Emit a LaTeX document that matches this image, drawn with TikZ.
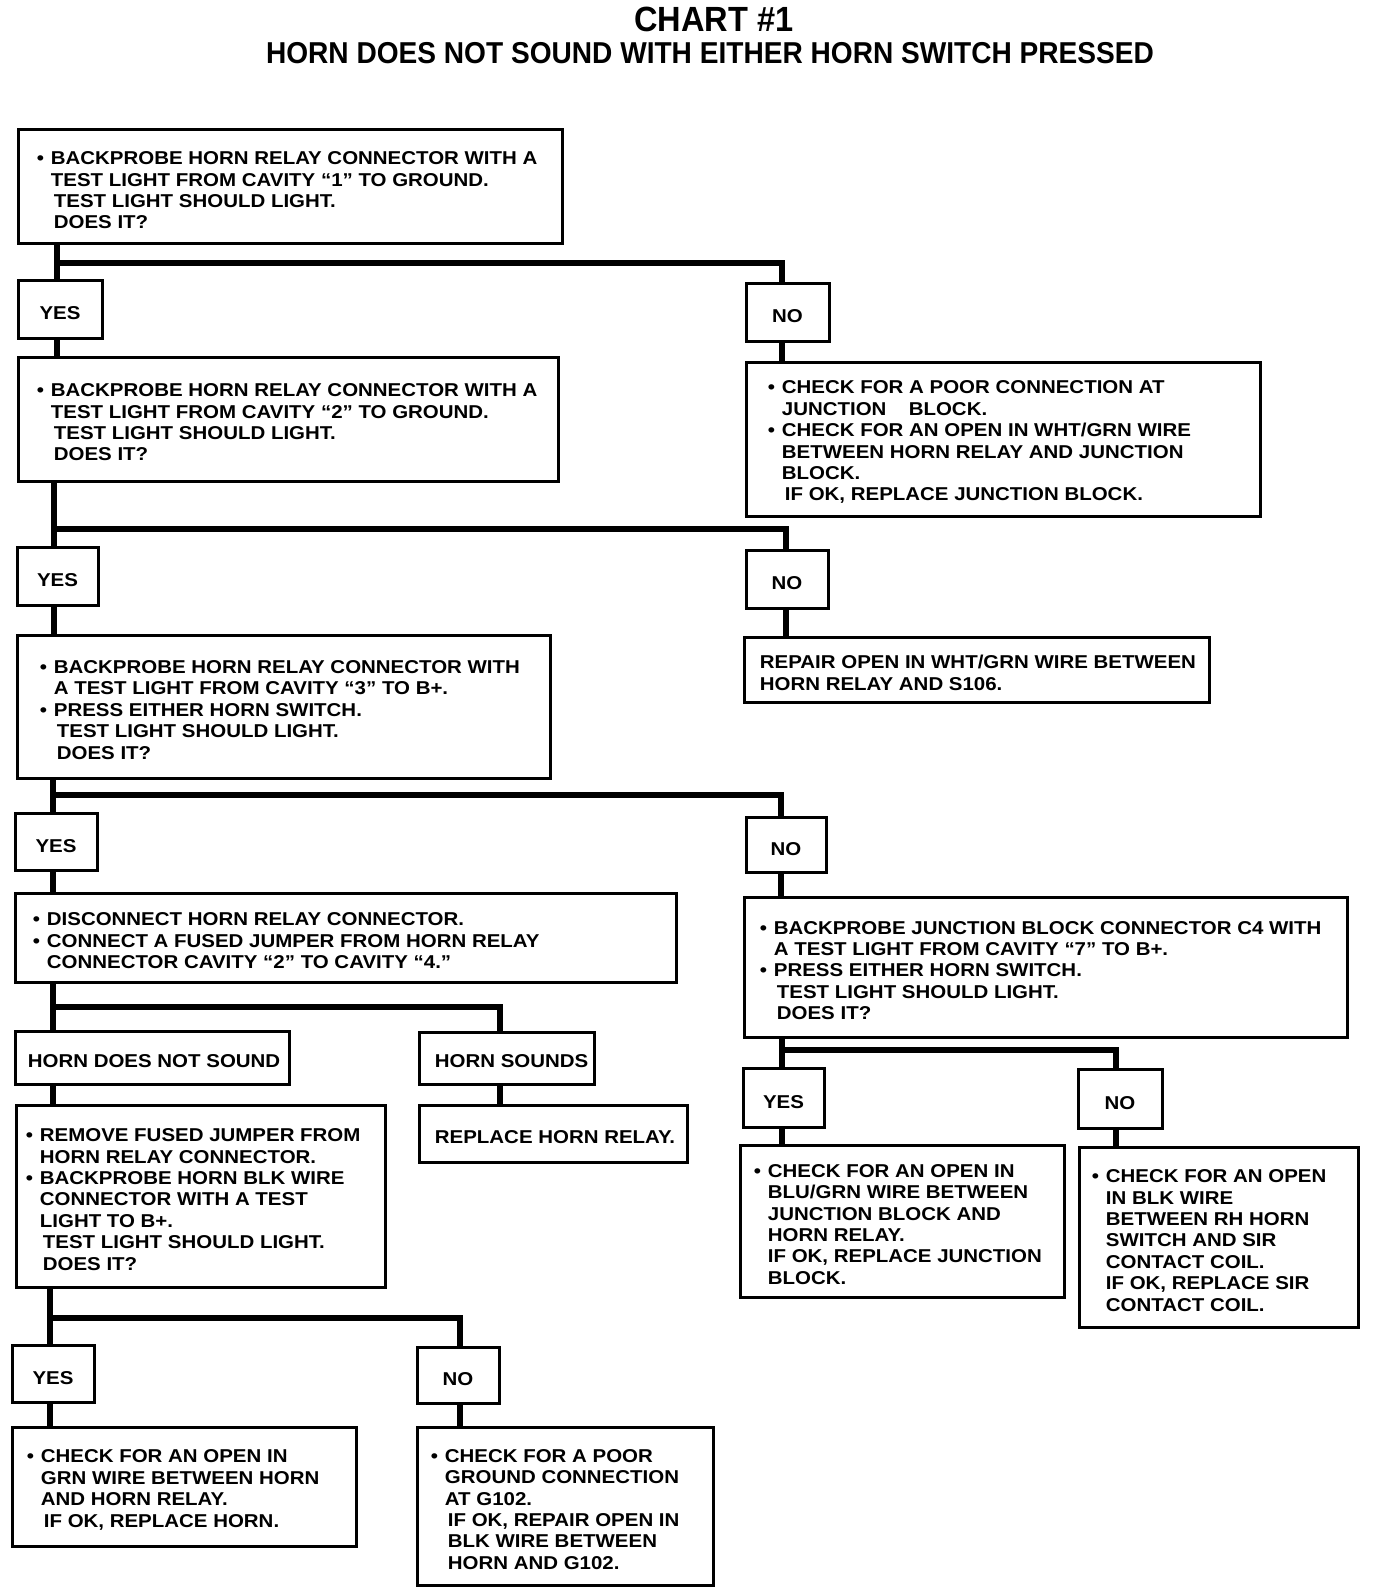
\documentclass[tikz,border=0pt]{standalone}
\usepackage{fontspec}
\newfontfamily\bodyf{Liberation Sans}[FakeStretch=1.1]
\newfontfamily\titlef{Liberation Sans}[FakeStretch=0.93]
\newcommand\mybul{\makebox[7pt][l]{•}}
\newcommand\myia{\hspace*{7pt}}
\newcommand\myib{\hspace*{8.5pt}}
\newcommand\tbox[7]{%
  \node[box, minimum width={(#4-#2)*0.5pt}, minimum height={(#5-#3)*0.5pt}] (#1) at ({(#2+#4)/2},{(#3+#5)/2}) {};
  \node[txt] (#1t) at ([xshift={#6*0.5pt},yshift=-1.7pt]#1.west) {#7};}
\newcommand\lbox[6]{%
  \node[box, lbl, minimum width={(#4-#2)*0.5pt}, minimum height={(#5-#3)*0.5pt}] (#1) at ({(#2+#4)/2},{(#3+#5)/2}) {#6};}
\tikzset{
  box/.style={draw, line width=1.5pt, inner sep=0pt},
  txt/.style={inner sep=0pt, align=left, anchor=west, font=\bodyf\bfseries\fontsize{9.3}{10.7}\selectfont},
  lbl/.style={font=\bodyf\bfseries\fontsize{9.3}{10.7}\selectfont, text height=10.8pt, text depth=0pt},
  conn/.style={line width=2.8pt},
}
\begin{document}
\begin{tikzpicture}[x=0.5pt,y=-0.5pt]
\useasboundingbox (0,0) rectangle (1376,1594);
\node[font=\titlef\bfseries\fontsize{17.5}{20}\selectfont, anchor=base] (title) at (714,31.5) {CHART \#1};
\node[font=\titlef\bfseries\fontsize{15.1}{18}\selectfont, anchor=base] (subtitle) at (710,63.5) {HORN DOES NOT SOUND WITH EITHER HORN SWITCH PRESSED};

\tbox{b1}{18}{130}{562}{244}{20}{\mybul BACKPROBE HORN RELAY CONNECTOR WITH A\\ \myia TEST LIGHT FROM CAVITY “1” TO GROUND.\\ \myib TEST LIGHT SHOULD LIGHT.\\ \myib DOES IT?}
\lbox{yes1}{18}{280}{102}{338}{YES}
\lbox{no1}{746}{283}{829}{341}{NO}
\tbox{b2}{18}{357}{558}{481}{20}{\mybul BACKPROBE HORN RELAY CONNECTOR WITH A\\ \myia TEST LIGHT FROM CAVITY “2” TO GROUND.\\ \myib TEST LIGHT SHOULD LIGHT.\\ \myib DOES IT?}
\tbox{no1r}{746}{362}{1260}{516}{23}{\mybul CHECK FOR A POOR CONNECTION AT\\ \myia JUNCTION\hspace{1.2em}BLOCK.\\ \mybul CHECK FOR AN OPEN IN WHT/GRN WIRE\\ \myia BETWEEN HORN RELAY AND JUNCTION\\ \myia BLOCK.\\ \myib IF OK, REPLACE JUNCTION BLOCK.}
\lbox{yes2}{17}{547}{98}{605}{YES}
\lbox{no2}{746}{550}{828}{608}{NO}
\tbox{b3}{17}{635}{550}{778}{24}{\mybul BACKPROBE HORN RELAY CONNECTOR WITH\\ \myia A TEST LIGHT FROM CAVITY “3” TO B+.\\ \mybul PRESS EITHER HORN SWITCH.\\ \myib TEST LIGHT SHOULD LIGHT.\\ \myib DOES IT?}
\tbox{no2r}{744}{637}{1209}{702}{17}{REPAIR OPEN IN WHT/GRN WIRE BETWEEN\\ HORN RELAY AND S106.}
\lbox{yes3}{15}{813}{97}{870}{YES}
\lbox{no3}{746}{817}{826}{872}{NO}
\tbox{b4}{15}{893}{676}{982}{19}{\mybul DISCONNECT HORN RELAY CONNECTOR.\\ \mybul CONNECT A FUSED JUMPER FROM HORN RELAY\\ \myia CONNECTOR CAVITY “2” TO CAVITY “4.”}
\tbox{jb}{744}{897}{1347}{1037}{17}{\mybul BACKPROBE JUNCTION BLOCK CONNECTOR C4 WITH\\ \myia A TEST LIGHT FROM CAVITY “7” TO B+.\\ \mybul PRESS EITHER HORN SWITCH.\\ \myib TEST LIGHT SHOULD LIGHT.\\ \myib DOES IT?}
\tbox{hdns}{15}{1031}{289}{1084}{14}{HORN DOES NOT SOUND}
\tbox{hs}{419}{1032}{594}{1084}{17}{HORN SOUNDS}
\lbox{yes5}{743}{1068}{824}{1127}{YES}
\lbox{no5}{1078}{1069}{1162}{1128}{NO}
\tbox{b5}{16}{1105}{385}{1287}{11}{\mybul REMOVE FUSED JUMPER FROM\\ \myia HORN RELAY CONNECTOR.\\ \mybul BACKPROBE HORN BLK WIRE\\ \myia CONNECTOR WITH A TEST\\ \myia LIGHT TO B+.\\ \myib TEST LIGHT SHOULD LIGHT.\\ \myib DOES IT?}
\tbox{rr}{419}{1105}{687}{1162}{17}{REPLACE HORN RELAY.}
\tbox{b6}{740}{1145}{1064}{1297}{15}{\mybul CHECK FOR AN OPEN IN\\ \myia BLU/GRN WIRE BETWEEN\\ \myia JUNCTION BLOCK AND\\ \myia HORN RELAY.\\ \myia IF OK, REPLACE JUNCTION\\ \myia BLOCK.}
\tbox{b7}{1079}{1147}{1358}{1327}{14}{\mybul CHECK FOR AN OPEN\\ \myia IN BLK WIRE\\ \myia BETWEEN RH HORN\\ \myia SWITCH AND SIR\\ \myia CONTACT COIL.\\ \myia IF OK, REPLACE SIR\\ \myia CONTACT COIL.}
\lbox{yes6}{12}{1345}{94}{1402}{YES}
\lbox{no6}{417}{1347}{499}{1403}{NO}
\tbox{b8}{12}{1427}{356}{1546}{16}{\mybul CHECK FOR AN OPEN IN\\ \myia GRN WIRE BETWEEN HORN\\ \myia AND HORN RELAY.\\ \myib IF OK, REPLACE HORN.}
\tbox{b9}{417}{1427}{713}{1585}{15}{\mybul CHECK FOR A POOR\\ \myia GROUND CONNECTION\\ \myia AT G102.\\ \myib IF OK, REPAIR OPEN IN\\ \myib BLK WIRE BETWEEN\\ \myib HORN AND G102.}

% junctions
\coordinate (j1l) at (57,263);  \coordinate (j1r) at (782,263);
\coordinate (j2l) at (54,529);  \coordinate (j2r) at (786,529);
\coordinate (j3l) at (53,795);  \coordinate (j3r) at (781,795);
\coordinate (j4l) at (53,1007); \coordinate (j4r) at (500,1007);
\coordinate (j5l) at (782,1050); \coordinate (j5r) at (1116,1050);
\coordinate (j6l) at (50,1318); \coordinate (j6r) at (460,1318);

\draw[conn] (j1l |- b1.south) -- (j1l |- yes1.north);
\draw[conn] (j1l) -- (j1r) -- (j1r |- no1.north);
\draw[conn] (j1l |- yes1.south) -- (j1l |- b2.north);
\draw[conn] (j1r |- no1.south) -- (j1r |- no1r.north);

\draw[conn] (j2l |- b2.south) -- (j2l |- yes2.north);
\draw[conn] (j2l) -- (j2r) -- (j2r |- no2.north);
\draw[conn] (j2l |- yes2.south) -- (j2l |- b3.north);
\draw[conn] (j2r |- no2.south) -- (j2r |- no2r.north);

\draw[conn] (j3l |- b3.south) -- (j3l |- yes3.north);
\draw[conn] (j3l) -- (j3r) -- (j3r |- no3.north);
\draw[conn] (j3l |- yes3.south) -- (j3l |- b4.north);
\draw[conn] (j3r |- no3.south) -- (j3r |- jb.north);

\draw[conn] (j4l |- b4.south) -- (j4l |- hdns.north);
\draw[conn] (j4l) -- (j4r) -- (j4r |- hs.north);
\draw[conn] (j4l |- hdns.south) -- (j4l |- b5.north);
\draw[conn] (j4r |- hs.south) -- (j4r |- rr.north);

\draw[conn] (j5l |- jb.south) -- (j5l |- yes5.north);
\draw[conn] (j5l) -- (j5r) -- (j5r |- no5.north);
\draw[conn] (j5l |- yes5.south) -- (j5l |- b6.north);
\draw[conn] (j5r |- no5.south) -- (j5r |- b7.north);

\draw[conn] (j6l |- b5.south) -- (j6l |- yes6.north);
\draw[conn] (j6l) -- (j6r) -- (j6r |- no6.north);
\draw[conn] (j6l |- yes6.south) -- (j6l |- b8.north);
\draw[conn] (j6r |- no6.south) -- (j6r |- b9.north);
\end{tikzpicture}
\end{document}
